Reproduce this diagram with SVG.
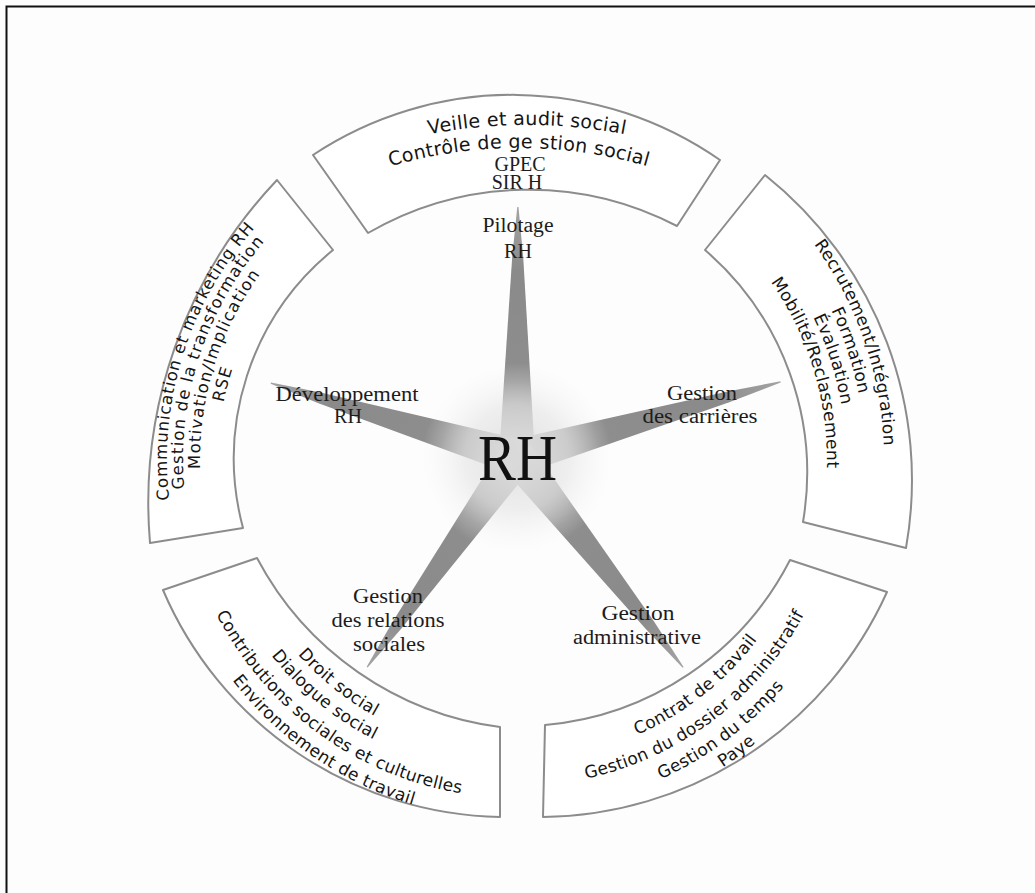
<svg xmlns="http://www.w3.org/2000/svg" width="1035" height="893" viewBox="0 0 1035 893">
  <defs>
    <style>
      .seg{fill:#fff;stroke:#8c8c8c;stroke-width:2;stroke-linejoin:round}
      .ring{font-family:"DejaVu Sans","Liberation Sans",sans-serif;font-size:17px;fill:#151515;text-anchor:middle;letter-spacing:0.3px}
      .lbl{font-family:"Liberation Serif","DejaVu Serif",serif;font-size:20px;fill:#1c1c1c;text-anchor:middle}
      .abbr{font-family:"Liberation Serif","DejaVu Serif",serif;font-size:20px;fill:#1c1c1c;text-anchor:middle}
    </style>
    <linearGradient id="spikeFill" x1="0" y1="0" x2="1" y2="0">
      <stop offset="0" stop-color="#d2d2d2"/>
      <stop offset="0.3" stop-color="#8e8e8e"/>
      <stop offset="0.75" stop-color="#8a8a8a"/>
      <stop offset="1" stop-color="#a4a4a4"/>
    </linearGradient>
    <radialGradient id="glow" cx="0.5" cy="0.5" r="0.5">
      <stop offset="0" stop-color="#dadada" stop-opacity="0.85"/>
      <stop offset="0.55" stop-color="#e4e4e4" stop-opacity="0.6"/>
      <stop offset="1" stop-color="#f2f2f2" stop-opacity="0"/>
    </radialGradient>
    <!-- one star branch, pointing along +x, length 100 -->
    <polygon id="spike" points="0,-18 80,-5.5 100,-0.6 100,0.6 80,5.5 0,18"/>

    <!-- baselines for the ring texts -->
    <path id="p-top1" d="M307.2,173.7 A520,520 0 0 1 746.8,173.7"/>
    <path id="p-top2" d="M324.6,191.1 A460,460 0 0 1 713.4,191.1"/>

    <path id="p-l1" d="M193.6,593.9 A350,350 0 0 1 328.9,164.8"/>
    <path id="p-l2" d="M207.3,585.1 A334,334 0 0 1 340,176.8"/>
    <path id="p-l3" d="M224.8,582.8 A317,317 0 0 1 345.3,193.5"/>
    <path id="p-l4" d="M247.1,588.7 A299,299 0 0 1 343.4,216.6"/>

    <path id="p-r1" d="M705.5,145.1 A367,367 0 0 1 859.9,590.9"/>
    <path id="p-r2" d="M700.4,164.2 A348,348 0 0 1 840.1,589.2"/>
    <path id="p-r3" d="M692.8,181.9 A329,329 0 0 1 821.4,584.9"/>
    <path id="p-r4" d="M686.8,200.6 A310,310 0 0 1 801.9,582.1"/>

    <path id="p-bl1" d="M229.7,517.4 A293,293 0 0 0 523.6,752.9"/>
    <path id="p-bl2" d="M208.5,518.3 A314,314 0 0 0 520.8,774"/>
    <path id="p-bl3" d="M188.8,540.6 A338,338 0 0 0 539.4,797.3"/>
    <path id="p-bl4" d="M170.1,556.2 A360,360 0 0 0 551.5,818.3"/>

    <path id="p-br1" d="M508.6,759.9 A300,300 0 0 0 810.9,520.3"/>
    <path id="p-br2" d="M499.9,785.6 A326,326 0 0 0 834.7,533.3"/>
    <path id="p-br3" d="M498.7,809.5 A350,350 0 0 0 858,538.7"/>
    <path id="p-br4" d="M497.6,829.5 A370,370 0 0 0 877.5,543.2"/>
  </defs>

  <rect width="1035" height="893" fill="#fdfdfd"/>
  <path d="M6.5,893 V6.5 H1035" fill="none" stroke="#111" stroke-width="2"/>

  <!-- outer ring: five activity blocks -->
  <g id="bloc-pilotage">
    <path class="seg" d="M313,155 A362,362 0 0 1 720,160 L677,226 A320,320 0 0 0 368,233 Z"/>
    <text class="ring" style="font-size:19px"><textPath href="#p-top1" startOffset="50%">Veille et audit social</textPath></text>
    <text class="ring" style="font-size:19px"><textPath href="#p-top2" startOffset="50%">Contrôle de ge stion social</textPath></text>
    <text class="abbr" x="520" y="171">GPEC</text>
    <text class="abbr" x="517" y="189">SIR H</text>
  </g>

  <g id="bloc-carrieres">
    <path class="seg" d="M765,175 A390,390 0 0 1 906,548 L803,522 A294,294 0 0 0 705,250 Z"/>
    <text class="ring"><textPath href="#p-r1" startOffset="50%">Recrutement/Intégration</textPath></text>
    <text class="ring"><textPath href="#p-r2" startOffset="50%">Formation</textPath></text>
    <text class="ring"><textPath href="#p-r3" startOffset="50%">Évaluation</textPath></text>
    <text class="ring"><textPath href="#p-r4" startOffset="50%">Mobilité/Reclassement</textPath></text>
  </g>

  <g id="bloc-administratif">
    <path class="seg" d="M887,592 A382,382 0 0 1 543,817 L545,725 A305,305 0 0 0 790,560 Z"/>
    <text class="ring"><textPath href="#p-br1" startOffset="50%">Contrat de travail</textPath></text>
    <text class="ring"><textPath href="#p-br2" startOffset="50%">Gestion du dossier administratif</textPath></text>
    <text class="ring"><textPath href="#p-br3" startOffset="50%">Gestion du temps</textPath></text>
    <text class="ring"><textPath href="#p-br4" startOffset="50%">Paye</textPath></text>
  </g>

  <g id="bloc-relations">
    <path class="seg" d="M500,817 A374,374 0 0 1 163,590 L257,558 A322,322 0 0 0 500,727 Z"/>
    <text class="ring"><textPath href="#p-bl1" startOffset="50%">Droit social</textPath></text>
    <text class="ring"><textPath href="#p-bl2" startOffset="50%">Dialogue social</textPath></text>
    <text class="ring"><textPath href="#p-bl3" startOffset="50%">Contributions sociales et culturelles</textPath></text>
    <text class="ring"><textPath href="#p-bl4" startOffset="50%">Environnement de travail</textPath></text>
  </g>

  <g id="bloc-developpement">
    <path class="seg" d="M150,543 A470,470 0 0 1 277,180 L333,250 A269,269 0 0 0 243,528 Z"/>
    <text class="ring" style="font-size:16.5px;letter-spacing:0.8px"><textPath href="#p-l1" startOffset="50%">Communication et marketing RH</textPath></text>
    <text class="ring" style="font-size:16.5px;letter-spacing:1.1px"><textPath href="#p-l2" startOffset="50%">Gestion de la transformation</textPath></text>
    <text class="ring" style="font-size:16.5px;letter-spacing:1.1px"><textPath href="#p-l3" startOffset="50%">Motivation/Implication</textPath></text>
    <text class="ring" style="font-size:16.5px;letter-spacing:1.1px"><textPath href="#p-l4" startOffset="50%">RSE</textPath></text>
  </g>

  <!-- star branches from the centre -->
  <g id="connectors" fill="url(#spikeFill)">
    <use href="#spike" transform="translate(517 457) rotate(-89.8) scale(2.5 1)"/>
    <use href="#spike" transform="translate(517 457) rotate(-15.9) scale(2.74 1)"/>
    <use href="#spike" transform="translate(517 457) rotate(196.7) scale(2.57 1)"/>
    <use href="#spike" transform="translate(517 457) rotate(125.5) scale(2.58 1)"/>
    <use href="#spike" transform="translate(517 457) rotate(51.7) scale(2.68 1)"/>
  </g>

  <g id="centre-rh">
    <circle cx="517" cy="458" r="95" fill="url(#glow)"/>
    <text x="517.5" y="480" textLength="79" lengthAdjust="spacingAndGlyphs" style="font-family:'Liberation Serif','DejaVu Serif',serif;font-size:66px;fill:#111;text-anchor:middle">RH</text>
  </g>

  <g id="axe-pilotage">
    <text class="lbl" x="518" y="232" textLength="71" lengthAdjust="spacingAndGlyphs">Pilotage</text>
    <text class="lbl" x="518" y="258">RH</text>
  </g>
  <g id="axe-developpement">
    <text class="lbl" x="347" y="401" textLength="143" lengthAdjust="spacingAndGlyphs">Développement</text>
    <text class="lbl" x="348" y="423">RH</text>
  </g>
  <g id="axe-carrieres">
    <text class="lbl" x="702" y="400" textLength="70" lengthAdjust="spacingAndGlyphs">Gestion</text>
    <text class="lbl" x="700" y="423" textLength="115" lengthAdjust="spacingAndGlyphs">des carrières</text>
  </g>
  <g id="axe-relations">
    <text class="lbl" x="388" y="603" textLength="70" lengthAdjust="spacingAndGlyphs">Gestion</text>
    <text class="lbl" x="388" y="627" textLength="113" lengthAdjust="spacingAndGlyphs">des relations</text>
    <text class="lbl" x="389" y="651" textLength="72" lengthAdjust="spacingAndGlyphs">sociales</text>
  </g>
  <g id="axe-administratif">
    <text class="lbl" x="638" y="620" textLength="73" lengthAdjust="spacingAndGlyphs">Gestion</text>
    <text class="lbl" x="637" y="644" textLength="128" lengthAdjust="spacingAndGlyphs">administrative</text>
  </g>
</svg>
